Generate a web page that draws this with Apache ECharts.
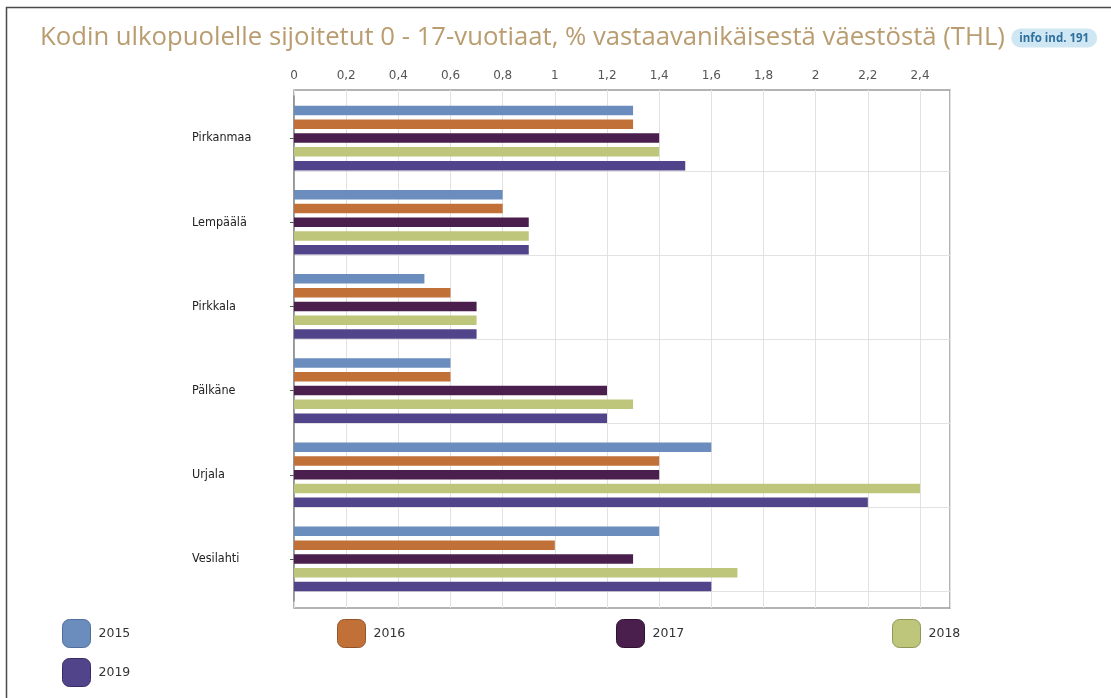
<!DOCTYPE html>
<html>
<head>
<meta charset="utf-8">
<script src="https://cdn.jsdelivr.net/npm/echarts@6/dist/echarts.min.js"></script>
<style>
  html, body { margin: 0; padding: 0; background: #fff; }
  #chart { width: 1111px; height: 698px; }
</style>
</head>
<body>
<div id="chart"></div>
<script>
// Municipalities (top to bottom)
const categories = ['Pirkanmaa', 'Lempäälä', 'Pirkkala', 'Pälkäne', 'Urjala', 'Vesilahti'];

// Share of 0–17-year-olds placed outside the home, %
const years = ['2015', '2016', '2017', '2018', '2019'];
const v2015 = [1.3, 0.8, 0.5, 0.6, 1.6, 1.4];
const v2016 = [1.3, 0.8, 0.6, 0.6, 1.4, 1.0];
const v2017 = [1.4, 0.9, 0.7, 1.2, 1.4, 1.3];
const v2018 = [1.4, 0.9, 0.7, 1.3, 2.4, 1.7];
const v2019 = [1.5, 0.9, 0.7, 1.2, 2.2, 1.6];
const values = [v2015, v2016, v2017, v2018, v2019];

const colors = ['#6b8dbd', '#c17038', '#4a1f4e', '#bec67b', '#52448a'];
const borders = ['#4f6e99', '#94532a', '#2e1232', '#8f9658', '#382c66'];

// legend slots: [left, top]
const legendPos = [[62, 619], [337, 619], [616, 619], [892, 619], [62, 658]];

const xMax = 2.515;
const fmt = v => String(v).replace('.', ',');

const chart = echarts.init(document.getElementById('chart'));

const series = years.map((y, i) => ({
  name: y,
  type: 'bar',
  xAxisIndex: 1,
  yAxisIndex: 1,
  data: values[i],
  barWidth: 9.5,
  barGap: '45%',
  itemStyle: { color: colors[i] },
  emphasis: { disabled: true }
}));

const legends = years.map((y, i) => ({
  left: legendPos[i][0], top: legendPos[i][1],
  padding: 0,
  itemWidth: 28, itemHeight: 28,
  icon: 'roundRect',
  selectedMode: false,
  textStyle: { fontSize: 12.5, color: '#333', padding: [0, 0, 0, 3] },
  data: [{ name: y, itemStyle: { color: colors[i], borderColor: borders[i], borderWidth: 1 } }]
}));

chart.setOption({
  animation: false,
  textStyle: { fontFamily: 'DejaVu Sans' },
  title: {
    left: 35,
    top: 20,
    text: '{t|Kodin ulkopuolelle sijoitetut 0 - 17-vuotiaat, % vastaavanikäisestä väestöstä (THL)} {b|info ind. 191}',
    textStyle: {
      rich: {
        t: { fontFamily: 'Open Sans', fontSize: 25.7, color: '#b99c6f', fontWeight: 'normal' },
        b: {
          fontFamily: 'Open Sans', fontSize: 11.5, fontWeight: 'bold', color: '#2f6f9e',
          backgroundColor: '#cfe6f3', borderRadius: 10, padding: [4, 8, 3, 8]
        }
      }
    }
  },
  graphic: [{
    type: 'polyline',
    shape: { points: [[6.5, 698], [6.5, 7.5], [1111, 7.5]] },
    style: { stroke: '#4a4a4a', lineWidth: 1.5, fill: null },
    silent: true
  }],
  legend: legends,
  grid: [
    // frame + vertical grid lines
    { left: 294, right: 161, top: 90, bottom: 90, show: true, borderColor: '#9a9a9a', borderWidth: 1.5 },
    // bars
    { left: 294, right: 161, top: 96, bottom: 97 },
    // horizontal separators
    { left: 294, right: 161, top: 171, bottom: 107 }
  ],
  xAxis: [{
    gridIndex: 0, type: 'value', position: 'top',
    min: 0, max: xMax, interval: 0.2,
    axisLine: { show: false }, axisTick: { show: false },
    axisLabel: { margin: 8, fontSize: 12, color: '#555', showMaxLabel: false, formatter: v => fmt(+v.toFixed(1)) },
    splitLine: { show: true, lineStyle: { color: '#e2e2e2', width: 1 } }
  }, {
    gridIndex: 1, type: 'value', min: 0, max: xMax,
    show: false
  }, {
    gridIndex: 2, type: 'value', min: 0, max: 1, show: false
  }],
  yAxis: [{
    gridIndex: 0, type: 'value', show: false
  }, {
    gridIndex: 1, type: 'category', inverse: true, data: categories,
    axisLine: { show: true, lineStyle: { color: '#8c8c8c', width: 1.5 } },
    axisTick: { show: true, alignWithLabel: true, length: 4, lineStyle: { color: '#555' } },
    axisLabel: { align: 'left', margin: 102, fontSize: 12.5, fontFamily: 'DejaVu Sans Condensed', color: '#222' },
    splitLine: { show: false }
  }, {
    gridIndex: 2, type: 'value', min: 0, max: 5, interval: 1,
    axisLine: { show: false }, axisTick: { show: false }, axisLabel: { show: false },
    splitLine: { show: true, lineStyle: { color: '#e2e2e2', width: 1 } }
  }],
  series: series
});
</script>
</body>
</html>
